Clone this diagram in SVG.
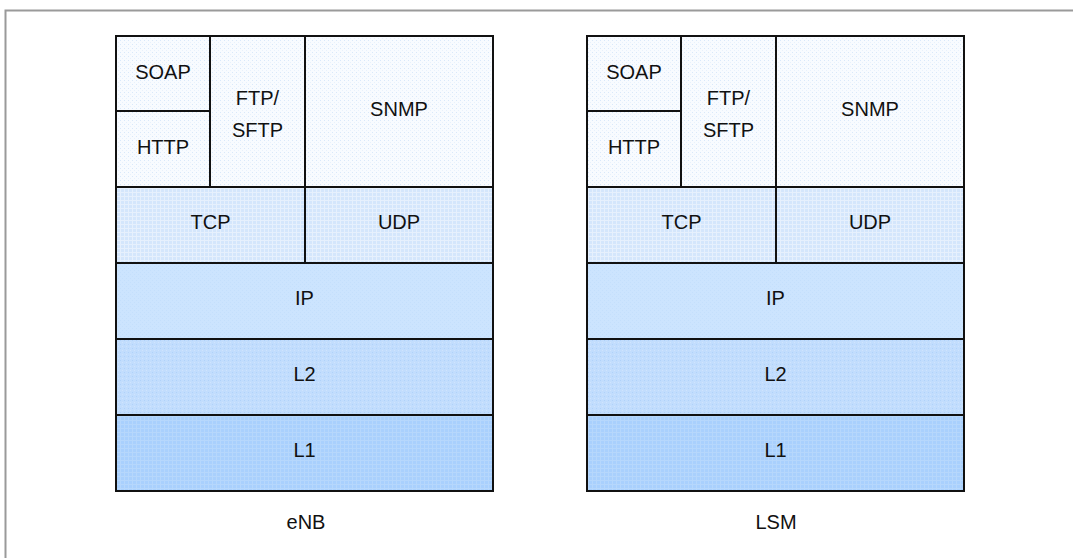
<svg xmlns="http://www.w3.org/2000/svg" width="1073" height="558" viewBox="0 0 1073 558">
  <defs>
    <pattern id="pApp" width="4" height="4" patternUnits="userSpaceOnUse">
      <rect width="4" height="4" fill="#f8fbff"/>
      <rect x="0" y="0" width="1" height="1" fill="#d9e8fa"/>
      <rect x="2" y="2" width="1" height="1" fill="#e8f1fc"/>
    </pattern>
    <pattern id="pTcp" width="4" height="4" patternUnits="userSpaceOnUse">
      <rect width="4" height="4" fill="#d4e6fc"/>
      <rect x="0" y="0" width="4" height="1" fill="#e6f0fd"/>
      <rect x="0" y="0" width="1" height="4" fill="#e6f0fd"/>
    </pattern>
    <pattern id="pIp" width="4" height="4" patternUnits="userSpaceOnUse">
      <rect width="4" height="4" fill="#cce4fe"/>
      <rect x="0" y="0" width="1" height="1" fill="#c4dffc"/>
      <rect x="2" y="2" width="1" height="1" fill="#c4dffc"/>
    </pattern>
    <pattern id="pL2" width="4" height="4" patternUnits="userSpaceOnUse">
      <rect width="4" height="4" fill="#c2ddfd"/>
      <rect x="0" y="0" width="1" height="1" fill="#b0d2fa"/>
      <rect x="2" y="2" width="1" height="1" fill="#d0e4fd"/>
    </pattern>
    <pattern id="pL1" width="4" height="4" patternUnits="userSpaceOnUse">
      <rect width="4" height="4" fill="#a9d0fd"/>
      <rect x="0" y="0" width="4" height="1" fill="#b6d7fc"/>
      <rect x="0" y="0" width="1" height="4" fill="#b6d7fc"/>
    </pattern>
  </defs>
  <style>
    .box { stroke: #111; stroke-width: 2; }
    .app { fill: url(#pApp); }
    .tcp { fill: url(#pTcp); }
    .ip { fill: url(#pIp); }
    .l2 { fill: url(#pL2); }
    .l1 { fill: url(#pL1); }
    text { font-family: "Liberation Sans", Arial, sans-serif; font-size: 20px; fill: #111; text-anchor: middle; }
    .frame { fill: none; stroke: #9a9a9a; stroke-width: 2; }
  </style>
  <rect width="1073" height="558" fill="#ffffff"/>
  <path class="frame" d="M5.5,560 V10.5 H1075"/>

  <g id="stack-enb">
    <g id="enb-soap"><rect class="box app" x="116" y="36" width="94" height="75"/><text x="163" y="79">SOAP</text></g>
    <g id="enb-http"><rect class="box app" x="116" y="111" width="94" height="76"/><text x="163" y="154">HTTP</text></g>
    <g id="enb-ftp"><rect class="box app" x="210" y="36" width="95" height="151"/><text x="257.5" y="105">FTP/</text><text x="257.5" y="137">SFTP</text></g>
    <g id="enb-snmp"><rect class="box app" x="305" y="36" width="188" height="151"/><text x="399" y="116">SNMP</text></g>
    <g id="enb-tcp"><rect class="box tcp" x="116" y="187" width="189" height="76"/><text x="210.5" y="229">TCP</text></g>
    <g id="enb-udp"><rect class="box tcp" x="305" y="187" width="188" height="76"/><text x="399" y="229">UDP</text></g>
    <g id="enb-ip"><rect class="box ip" x="116" y="263" width="377" height="76"/><text x="304.5" y="305">IP</text></g>
    <g id="enb-l2"><rect class="box l2" x="116" y="339" width="377" height="76"/><text x="304.5" y="381">L2</text></g>
    <g id="enb-l1"><rect class="box l1" x="116" y="415" width="377" height="76"/><text x="304.5" y="457">L1</text></g>
    <g id="enb-label"><text x="306" y="529">eNB</text></g>
  </g>

  <g id="stack-lsm">
    <g id="lsm-soap"><rect class="box app" x="587" y="36" width="94" height="75"/><text x="634" y="79">SOAP</text></g>
    <g id="lsm-http"><rect class="box app" x="587" y="111" width="94" height="76"/><text x="634" y="154">HTTP</text></g>
    <g id="lsm-ftp"><rect class="box app" x="681" y="36" width="95" height="151"/><text x="728.5" y="105">FTP/</text><text x="728.5" y="137">SFTP</text></g>
    <g id="lsm-snmp"><rect class="box app" x="776" y="36" width="188" height="151"/><text x="870" y="116">SNMP</text></g>
    <g id="lsm-tcp"><rect class="box tcp" x="587" y="187" width="189" height="76"/><text x="681.5" y="229">TCP</text></g>
    <g id="lsm-udp"><rect class="box tcp" x="776" y="187" width="188" height="76"/><text x="870" y="229">UDP</text></g>
    <g id="lsm-ip"><rect class="box ip" x="587" y="263" width="377" height="76"/><text x="775.5" y="305">IP</text></g>
    <g id="lsm-l2"><rect class="box l2" x="587" y="339" width="377" height="76"/><text x="775.5" y="381">L2</text></g>
    <g id="lsm-l1"><rect class="box l1" x="587" y="415" width="377" height="76"/><text x="775.5" y="457">L1</text></g>
    <g id="lsm-label"><text x="776" y="529">LSM</text></g>
  </g>
</svg>
